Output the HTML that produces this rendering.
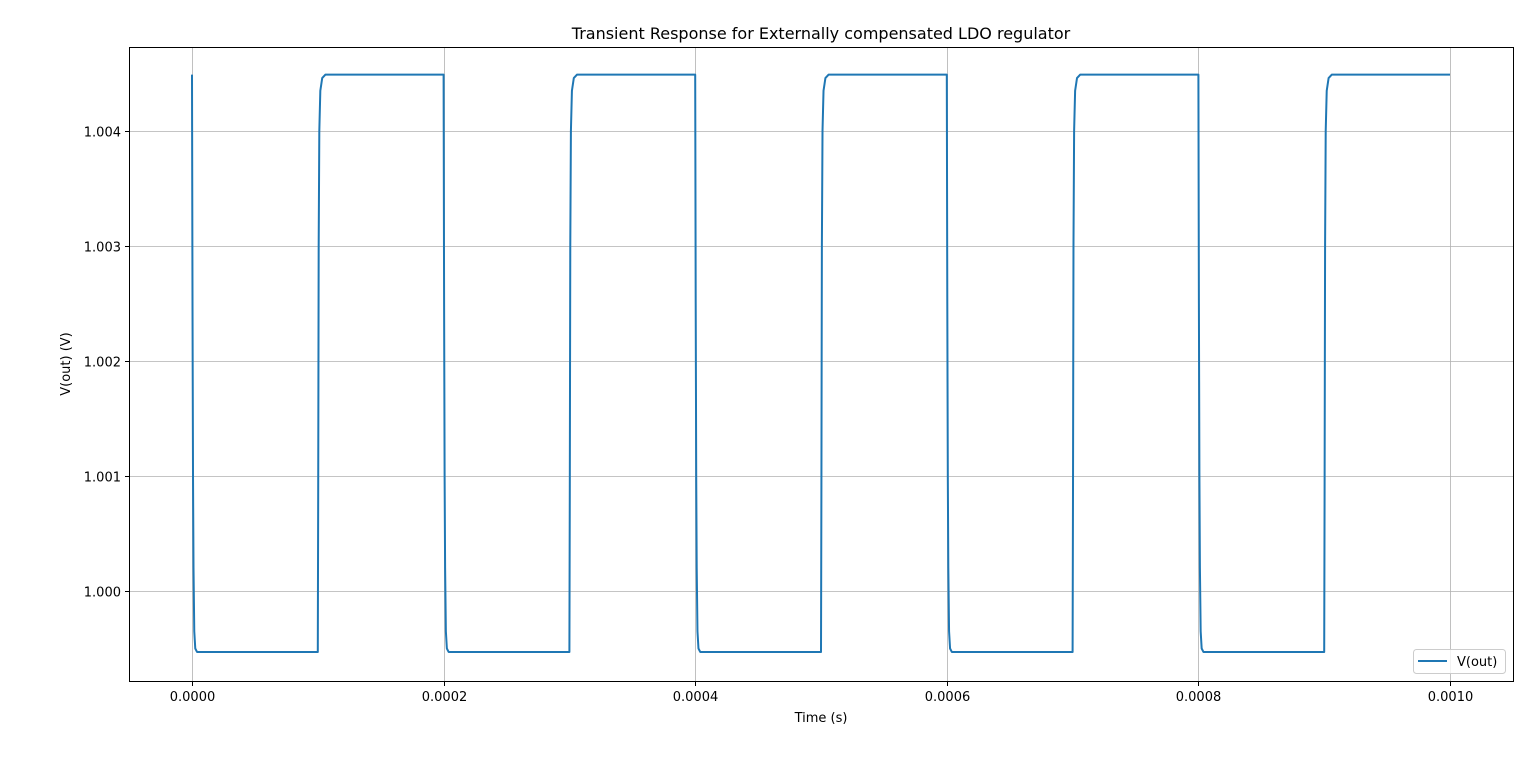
<!DOCTYPE html>
<html><head><meta charset="utf-8"><style>
html,body{margin:0;padding:0;background:#fff;}
svg text{font-family:"DejaVu Sans","Liberation Sans",sans-serif;fill:#000;}
</style></head><body>
<svg id="chart" width="1536" height="754" xmlns="http://www.w3.org/2000/svg">
<rect x="0" y="0" width="1536" height="754" fill="#fff"/>
<g id="grid"></g>
<g id="series"></g>
<rect x="129.5" y="47.5" width="1384" height="634" fill="none" stroke="#000" stroke-width="1"/>
<g id="ticks"></g>
<text x="821" y="39" font-size="16" text-anchor="middle">Transient Response for Externally compensated LDO regulator</text>
<text x="821" y="722" font-size="13" text-anchor="middle">Time (s)</text>
<text x="70" y="364" font-size="13" text-anchor="middle" transform="rotate(-90 70 364)">V(out) (V)</text>
<g>
<rect x="1413.5" y="649.5" width="92" height="24" rx="3" fill="#fff" fill-opacity="0.8" stroke="#ccc"/>
<line x1="1418" y1="661" x2="1447" y2="661" stroke="#1f77b4" stroke-width="2"/>
<text x="1457" y="666" font-size="13">V(out)</text>
</g>
</svg>
<script>
const timeUs = [
0,0.4,0.8,1.2,1.8,2.6,4,100,100.3,100.7,101.2,102,103.5,106,
200,200.4,200.8,201.2,201.8,202.6,204,300,300.3,300.7,301.2,302,303.5,306,
400,400.4,400.8,401.2,401.8,402.6,404,500,500.3,500.7,501.2,502,503.5,506,
600,600.4,600.8,601.2,601.8,602.6,604,700,700.3,700.7,701.2,702,703.5,706,
800,800.4,800.8,801.2,801.8,802.6,804,900,900.3,900.7,901.2,902,903.5,906,
1000];
const vout = [
1.00449,1.0025,1.0010,1.0002,0.99965,0.99950,0.99947,0.99947,1.0008,1.0030,1.0040,1.00435,1.00446,1.00449,
1.00449,1.0025,1.0010,1.0002,0.99965,0.99950,0.99947,0.99947,1.0008,1.0030,1.0040,1.00435,1.00446,1.00449,
1.00449,1.0025,1.0010,1.0002,0.99965,0.99950,0.99947,0.99947,1.0008,1.0030,1.0040,1.00435,1.00446,1.00449,
1.00449,1.0025,1.0010,1.0002,0.99965,0.99950,0.99947,0.99947,1.0008,1.0030,1.0040,1.00435,1.00446,1.00449,
1.00449,1.0025,1.0010,1.0002,0.99965,0.99950,0.99947,0.99947,1.0008,1.0030,1.0040,1.00435,1.00446,1.00449,
1.00449];
const xTicks = [0,0.0002,0.0004,0.0006,0.0008,0.001];
const xTickLabels = ["0.0000","0.0002","0.0004","0.0006","0.0008","0.0010"];
const yTicks = [1.000,1.001,1.002,1.003,1.004];
const yTickLabels = ["1.000","1.001","1.002","1.003","1.004"];

const X0=192, XPX=1258/0.001;
const Y0=591, YPX=115/0.001;
function sx(t){return X0+t*XPX;}
function sy(v){return Y0-(v-1.0)*YPX;}
const NS="http://www.w3.org/2000/svg";
const grid=document.getElementById('grid'), ticks=document.getElementById('ticks'), ser=document.getElementById('series');
function mk(tag,attrs,parent){const e=document.createElementNS(NS,tag);for(const k in attrs)e.setAttribute(k,attrs[k]);parent.appendChild(e);return e;}
xTicks.forEach((t,i)=>{
  const x=Math.round(sx(t))+0.5;
  const g=mk('line',{x1:x,x2:x,y1:48,y2:681,stroke:'#b0b0b0','stroke-width':0.8},grid);
  
  
  const tk=mk('line',{x1:x,x2:x,y1:682,y2:686,stroke:'#000'},ticks);
  
  
  const tx=mk('text',{x:x,y:701,'font-size':13,'text-anchor':'middle'},ticks);
  tx.textContent=xTickLabels[i];
  
  
});
yTicks.forEach((v,i)=>{
  const y=Math.round(sy(v))+0.5;
  const g=mk('line',{x1:130,x2:1513,y1:y,y2:y,stroke:'#b0b0b0','stroke-width':0.8},grid);
  
  
  const tk=mk('line',{x1:125,x2:129,y1:y,y2:y,stroke:'#000'},ticks);
  
  
  const tx=mk('text',{x:121,y:y+5,'font-size':13,'text-anchor':'end'},ticks);
  tx.textContent=yTickLabels[i];
  
  
});
const d=timeUs.map((t,i)=>(i?'L':'M')+sx(t*1e-6).toFixed(2)+','+sy(vout[i]).toFixed(2)).join(' ');
const p=mk('path',{d:d,fill:'none',stroke:'#1f77b4','stroke-width':2,'stroke-linejoin':'round'},ser);


</script>
</body></html>
